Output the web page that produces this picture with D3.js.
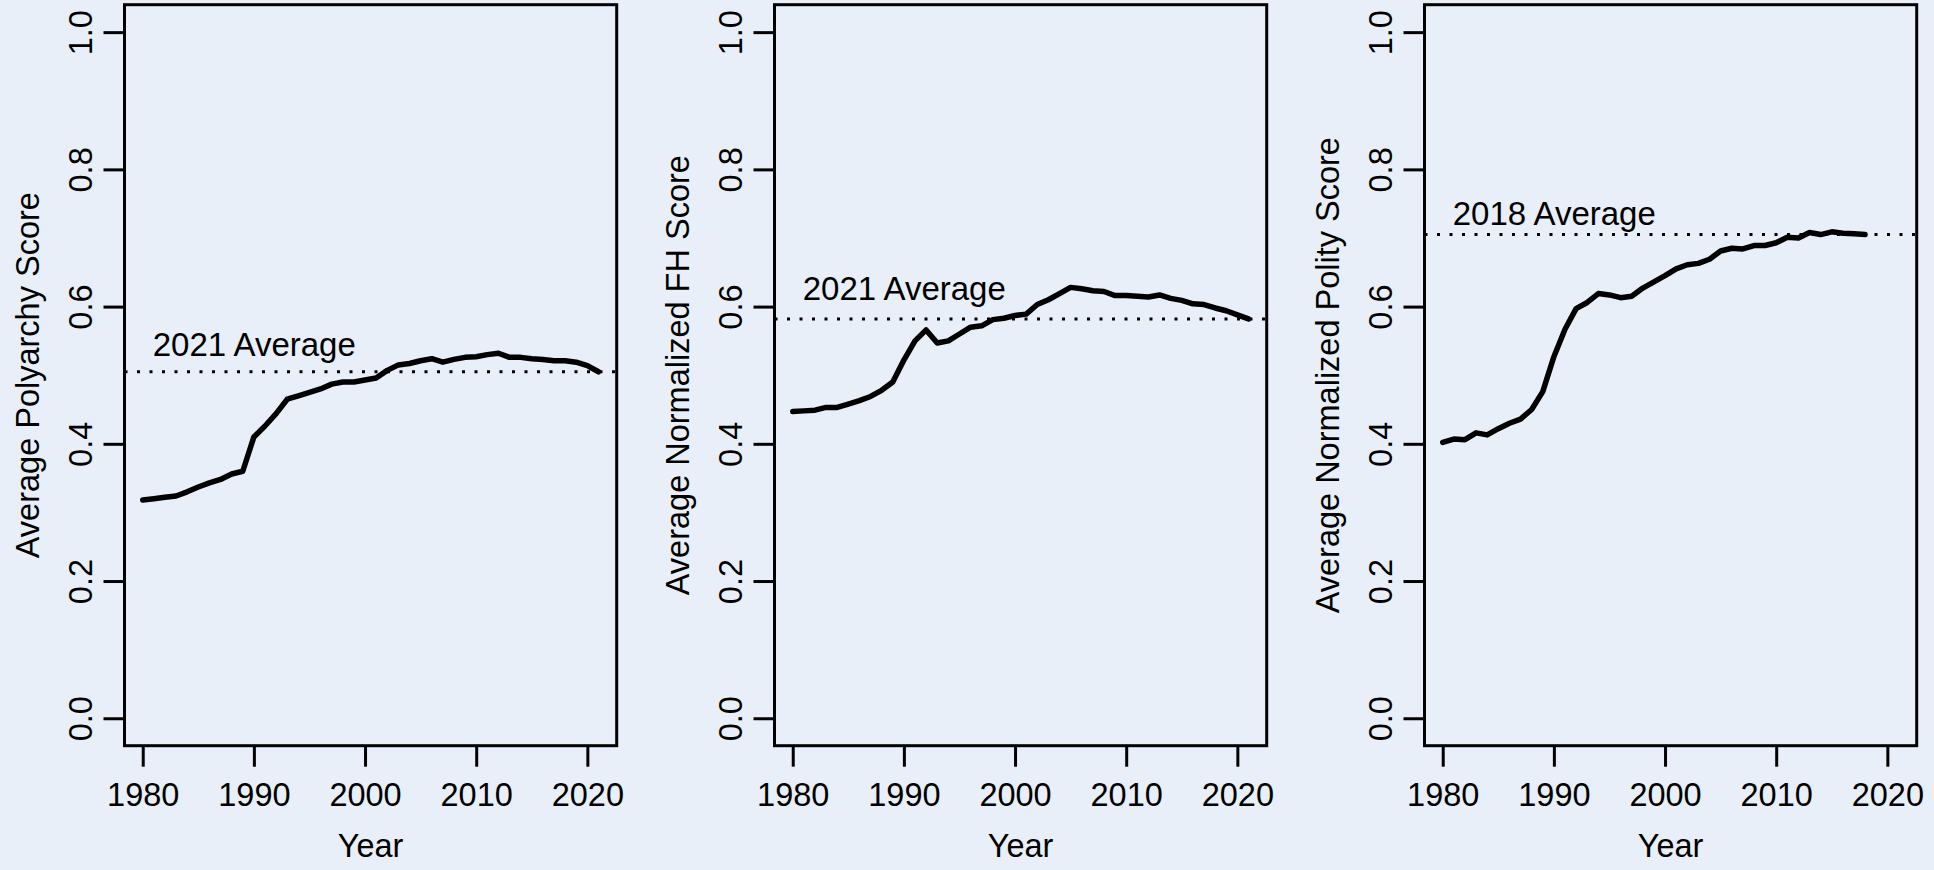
<!DOCTYPE html>
<html>
<head>
<meta charset="utf-8">
<script src="https://cdn.jsdelivr.net/npm/d3@7"></script>
<style>
  html, body { margin: 0; padding: 0; background: #e8eff8; }
  svg { display: block; }
  text { font-family: "Liberation Sans", Arial, Helvetica, sans-serif; fill: #000; }
</style>
</head>
<body>
<svg id="chart" width="1934" height="870"></svg>
<script>
// years
const yearsLong = d3.range(1980, 2022);   // 1980-2021
const yearsPolity = d3.range(1980, 2019); // 1980-2018

// average V-Dem polyarchy score
const polyarchy = [0.318, 0.320, 0.322, 0.324, 0.330, 0.337, 0.343, 0.348, 0.356, 0.360,
  0.410, 0.426, 0.444, 0.465, 0.470, 0.475, 0.480, 0.487, 0.490, 0.490,
  0.493, 0.496, 0.507, 0.515, 0.517, 0.521, 0.524, 0.519, 0.523, 0.526,
  0.527, 0.530, 0.532, 0.526, 0.526, 0.524, 0.523, 0.521, 0.521, 0.519,
  0.514, 0.505];

// average normalized Freedom House score
const fh = [0.447, 0.448, 0.449, 0.453, 0.453, 0.458, 0.463, 0.469, 0.478, 0.490,
  0.522, 0.550, 0.566, 0.547, 0.550, 0.560, 0.570, 0.572, 0.581, 0.583,
  0.587, 0.589, 0.603, 0.610, 0.619, 0.628, 0.626, 0.623, 0.622, 0.616,
  0.616, 0.615, 0.614, 0.617, 0.612, 0.609, 0.604, 0.603, 0.598, 0.594,
  0.588, 0.582];

// average normalized Polity score
const polity = [0.402, 0.407, 0.406, 0.416, 0.413, 0.422, 0.430, 0.436, 0.450, 0.476,
  0.527, 0.567, 0.597, 0.606, 0.619, 0.617, 0.613, 0.615, 0.627, 0.636,
  0.645, 0.655, 0.661, 0.663, 0.669, 0.681, 0.685, 0.684, 0.689, 0.689,
  0.693, 0.701, 0.700, 0.708, 0.705, 0.709, 0.707, 0.706, 0.705];

const xTicks = [1980, 1990, 2000, 2010, 2020];
const yTicks = [0, 0.2, 0.4, 0.6, 0.8, 1.0];

const panels = [
  { years: yearsLong, values: polyarchy, yTitle: "Average Polyarchy Score",
    avgLabel: "2021 Average", labelAt: 0.545 },
  { years: yearsLong, values: fh, yTitle: "Average Normalized FH Score",
    avgLabel: "2021 Average", labelAt: 0.627 },
  { years: yearsPolity, values: polity, yTitle: "Average Normalized Polity Score",
    avgLabel: "2018 Average", labelAt: 0.736 }
];

const svg = d3.select("#chart");
const panelStep = 650;
const box = { left: 124.5, right: 616.7, top: 4.7, bottom: 745.7 };
const fontSize = "32.5px";

// R style 4% padding on the 1980-2021 range
const x = d3.scaleLinear().domain([1978.36, 2022.64]).range([box.left, box.right]);
const y = d3.scaleLinear().domain([-0.04, 1.04]).range([box.bottom, box.top]);

panels.forEach((p, i) => {
  const g = svg.append("g").attr("transform", `translate(${i * panelStep},0)`);
  const avg = p.values[p.values.length - 1];

  // dotted average line across the plot region
  g.append("line")
    .attr("x1", box.left).attr("x2", box.right)
    .attr("y1", y(avg)).attr("y2", y(avg))
    .attr("stroke", "#000")
    .attr("stroke-width", 3)
    .attr("stroke-dasharray", "3 9.5");

  g.append("text")
    .attr("x", x(1980) + 10)
    .attr("y", y(p.labelAt))
    .attr("dy", "0.36em")
    .style("font-size", "33px")
    .text(p.avgLabel);

  const line = d3.line()
    .x((d, j) => x(p.years[j]))
    .y(d => y(d));

  g.append("path")
    .datum(p.values)
    .attr("fill", "none")
    .attr("stroke", "#000")
    .attr("stroke-width", 5.5)
    .attr("stroke-linejoin", "round")
    .attr("stroke-linecap", "round")
    .attr("d", line);

  // x axis
  const gx = g.append("g")
    .attr("transform", `translate(0,${box.bottom})`)
    .call(d3.axisBottom(x).tickValues(xTicks).tickSize(21).tickFormat(d3.format("d")));
  gx.select(".domain").remove();
  gx.selectAll(".tick line").attr("stroke", "#000").attr("stroke-width", 3);
  gx.selectAll(".tick text")
    .attr("y", 60.5).attr("dy", 0)
    .style("font-size", fontSize).attr("fill", "#000");

  // y axis
  const gy = g.append("g")
    .attr("transform", `translate(${box.left},0)`)
    .call(d3.axisLeft(y).tickValues(yTicks).tickSize(21).tickFormat(d3.format(".1f")));
  gy.select(".domain").remove();
  gy.selectAll(".tick line").attr("stroke", "#000").attr("stroke-width", 3);
  gy.selectAll(".tick text")
    .attr("transform", "rotate(-90)")
    .attr("x", 0).attr("y", -33).attr("dy", 0)
    .attr("text-anchor", "middle")
    .style("font-size", fontSize).attr("fill", "#000");

  // box
  g.append("rect")
    .attr("x", box.left).attr("y", box.top)
    .attr("width", box.right - box.left).attr("height", box.bottom - box.top)
    .attr("fill", "none").attr("stroke", "#000").attr("stroke-width", 3);

  // axis titles
  g.append("text")
    .attr("x", (box.left + box.right) / 2)
    .attr("y", 857)
    .attr("text-anchor", "middle")
    .style("font-size", fontSize)
    .text("Year");

  g.append("text")
    .attr("transform", `translate(39,${(box.top + box.bottom) / 2}) rotate(-90)`)
    .attr("text-anchor", "middle")
    .style("font-size", fontSize)
    .text(p.yTitle);
});
</script>
</body>
</html>
